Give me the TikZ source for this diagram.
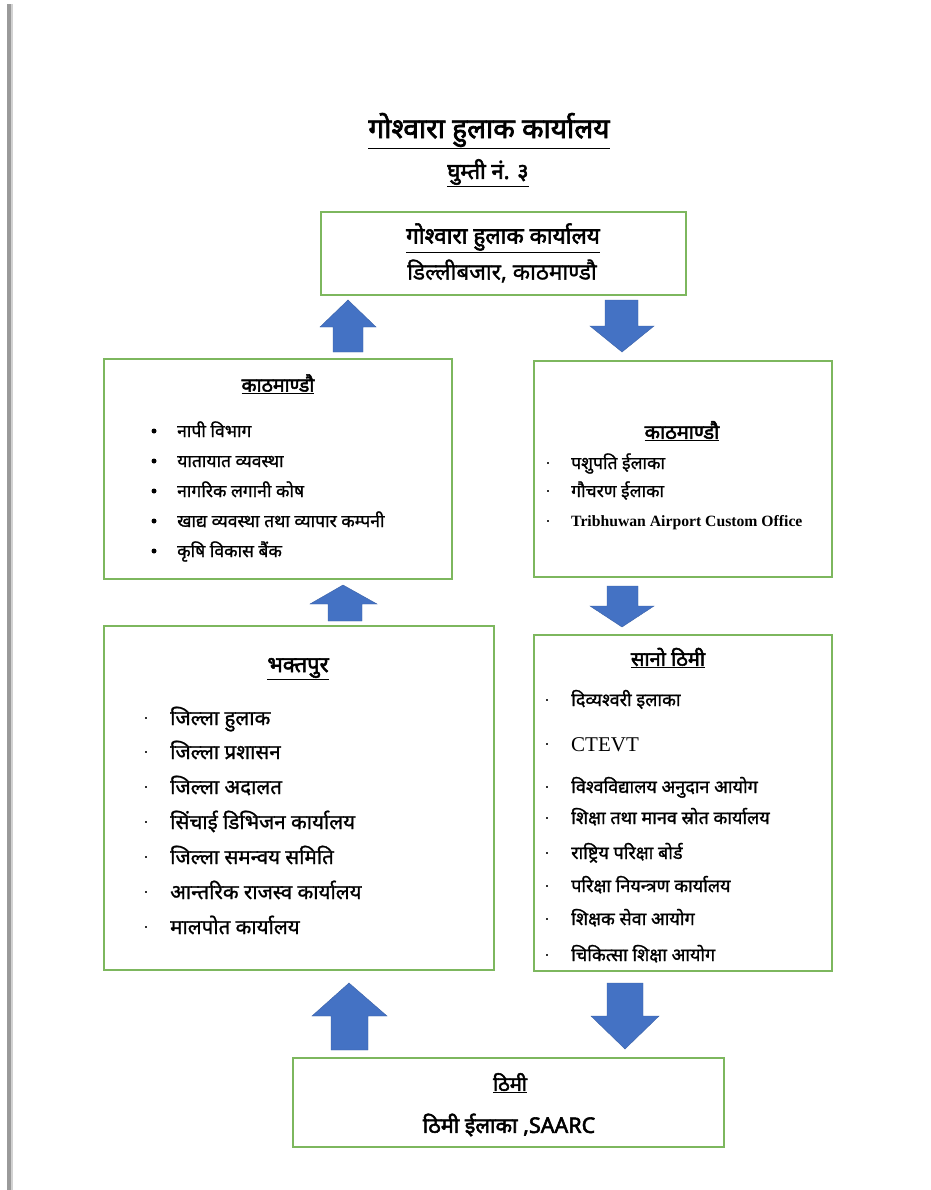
\documentclass[tikz,border=0pt]{standalone}
\usepackage{fontspec}
\setmainfont{Liberation Serif}
\newfontfamily\dev[Script=Devanagari, FakeBold=1.2]{Noto Sans}
\newfontfamily\devb[Script=Devanagari, FakeBold=2.6]{Noto Sans}
\definecolor{boxgreen}{HTML}{7DB75E}
\definecolor{arrowblue}{HTML}{4472C4}
\definecolor{bargray}{HTML}{9A9A9A}
\tikzset{
  panel/.style={draw=boxgreen, line width=1.8pt, fill=white, inner sep=0pt},
  blockarrow/.style={fill=arrowblue, draw=arrowblue!85!black, line width=0.4pt},
  bigtitle/.style={font=\devb\fontsize{28}{32}\selectfont, inner sep=0pt},
  subtitle/.style={font=\devb\fontsize{22}{26}\selectfont, inner sep=0pt},
  heading/.style={font=\devb\fontsize{19.5}{23}\selectfont, inner sep=0pt},
  item/.style={anchor=west, font=\dev\fontsize{17.5}{21}\selectfont, inner sep=0pt, text height=15pt, text depth=3pt},
  sitem/.style={anchor=west, font=\dev\fontsize{18}{22}\selectfont, inner sep=0pt, text height=15pt, text depth=3pt},
  bitem/.style={anchor=west, font=\dev\fontsize{20.5}{24}\selectfont, inner sep=0pt, text height=17pt, text depth=3pt},
  latinitem/.style={anchor=west, font=\bfseries\fontsize{15.7}{19}\selectfont, inner sep=0pt, text height=11pt, text depth=1pt},
  dotmark/.style={circle, fill=black, inner sep=0pt, minimum size=5pt},
  sqmark/.style={rectangle, fill=black!80, inner sep=0pt, minimum size=2.8pt},
}
\begin{document}
\begin{tikzpicture}[x=1pt,y=-1pt]
\useasboundingbox (0,0) rectangle (930,1190);
\fill[white] (0,0) rectangle (930,1190);
% page edge bar
\fill[bargray] (7,4) rectangle (11,1190);
\fill[gray!35] (11,4) rectangle (13,1190);

% page titles
\node[bigtitle] (maintitle) at (489,131) {\underline{गोश्वारा हुलाक कार्यालय}};
\node[subtitle] (ghumti) at (488,173) {\underline{घुम्ती नं. ३}};

% boxes
\node[panel, minimum width=365pt, minimum height=83pt] (topbox) at (503.5,253.5) {};
\node[panel, minimum width=348pt, minimum height=220pt] (ktmleft) at (278,469) {};
\node[panel, minimum width=298pt, minimum height=216pt] (ktmright) at (683,469) {};
\node[panel, minimum width=390pt, minimum height=344pt] (bhaktapur) at (299,798) {};
\node[panel, minimum width=298pt, minimum height=336pt] (sanothimi) at (683,803) {};
\node[panel, minimum width=431pt, minimum height=89pt] (thimi) at (508.5,1102.5) {};

% top box text
\node[heading, font=\devb\fontsize{22.5}{27}\selectfont] (toph) at (503,238) {\underline{गोश्वारा हुलाक कार्यालय}};
\node[heading, font=\dev\fontsize{22.5}{27}\selectfont] (topa) at (502,271) {डिल्लीबजार, काठमाण्डौ};

% Kathmandu left
\node[heading] (klh) at (278,384) {\underline{काठमाण्डौ}};
\node[dotmark] (klb1) at (154,431) {};
\node[item] (kl1) at (177,431) {नापी विभाग};
\node[dotmark] (klb2) at (154,461) {};
\node[item] (kl2) at (177,461) {यातायात व्यवस्था};
\node[dotmark] (klb3) at (154,491) {};
\node[item] (kl3) at (177,491) {नागरिक लगानी कोष};
\node[dotmark] (klb4) at (154,521) {};
\node[item] (kl4) at (177,521) {खाद्य व्यवस्था तथा व्यापार कम्पनी};
\node[dotmark] (klb5) at (154,551) {};
\node[item] (kl5) at (177,551) {कृषि विकास बैंक};

% Kathmandu right
\node[heading, font=\devb\fontsize{20}{24}\selectfont] (krh) at (682,431) {\underline{काठमाण्डौ}};
\node[sqmark] (krb1) at (548,463) {};
\node[item] (kr1) at (571,463) {पशुपति ईलाका};
\node[sqmark] (krb2) at (548,491) {};
\node[item] (kr2) at (571,491) {गौचरण ईलाका};
\node[sqmark] (krb3) at (548,521) {};
\node[latinitem] (kr3) at (571,521) {Tribhuwan Airport Custom Office};

% Bhaktapur
\node[heading, font=\devb\fontsize{22}{26}\selectfont] (bhh) at (298,669) {\underline{भक्तपुर}};
\node[sqmark] (bhb1) at (146,718) {};
\node[bitem] (bh1) at (170,718) {जिल्ला हुलाक};
\node[sqmark] (bhb2) at (146,752) {};
\node[bitem] (bh2) at (170,752) {जिल्ला प्रशासन};
\node[sqmark] (bhb3) at (146,787) {};
\node[bitem] (bh3) at (170,787) {जिल्ला अदालत};
\node[sqmark] (bhb4) at (146,822) {};
\node[bitem] (bh4) at (170,822) {सिंचाई डिभिजन कार्यालय};
\node[sqmark] (bhb5) at (146,857) {};
\node[bitem] (bh5) at (170,857) {जिल्ला समन्वय समिति};
\node[sqmark] (bhb6) at (146,892) {};
\node[bitem] (bh6) at (170,892) {आन्तरिक राजस्व कार्यालय};
\node[sqmark] (bhb7) at (146,927) {};
\node[bitem] (bh7) at (170,927) {मालपोत कार्यालय};

% Sano Thimi
\node[heading, font=\devb\fontsize{20}{24}\selectfont] (sth) at (668,658) {\underline{सानो ठिमी}};
\node[sqmark] (stb1) at (547,700) {};
\node[sitem] (st1) at (571,700) {दिव्यश्वरी इलाका};
\node[sqmark] (stb2) at (547,744) {};
\node[latinitem, font=\fontsize{21}{25}\selectfont, text height=15pt, text depth=1pt] (st2) at (571,744) {CTEVT};
\node[sqmark] (stb3) at (547,787) {};
\node[sitem] (st3) at (571,787) {विश्वविद्यालय अनुदान आयोग};
\node[sqmark] (stb4) at (547,818) {};
\node[sitem] (st4) at (571,818) {शिक्षा तथा मानव स्रोत कार्यालय};
\node[sqmark] (stb5) at (547,853) {};
\node[sitem] (st5) at (571,853) {राष्ट्रिय परिक्षा बोर्ड};
\node[sqmark] (stb6) at (547,886) {};
\node[sitem] (st6) at (571,886) {परिक्षा नियन्त्रण कार्यालय};
\node[sqmark] (stb7) at (547,919) {};
\node[sitem] (st7) at (571,919) {शिक्षक सेवा आयोग};
\node[sqmark] (stb8) at (547,955) {};
\node[sitem] (st8) at (571,955) {चिकित्सा शिक्षा आयोग};

% Thimi
\node[heading, font=\devb\fontsize{20}{24}\selectfont] (thh) at (510,1083) {\underline{ठिमी}};
\node[heading, font=\devb\fontsize{21.5}{26}\selectfont] (th1) at (509,1125) {ठिमी ईलाका ,SAARC};

% block arrows
\path[blockarrow] (348,300) -- (376,327) -- (363,327) -- (363,352) -- (333,352) -- (333,327) -- (320,327) -- cycle;
\path[blockarrow] (605,300) -- (638,300) -- (638,326) -- (654,326) -- (622,352) -- (590,326) -- (605,326) -- cycle;
\path[blockarrow] (343,585) -- (377,604) -- (362,604) -- (362,621) -- (328,621) -- (328,604) -- (310,604) -- cycle;
\path[blockarrow] (607,586) -- (638,586) -- (638,606) -- (654,606) -- (622,627) -- (590,606) -- (607,606) -- cycle;
\path[blockarrow] (349,983) -- (387,1016) -- (368,1016) -- (368,1050) -- (331,1050) -- (331,1016) -- (312,1016) -- cycle;
\path[blockarrow] (607,983) -- (643,983) -- (643,1016) -- (659,1016) -- (625,1049) -- (591,1016) -- (607,1016) -- cycle;
\end{tikzpicture}
\end{document}
